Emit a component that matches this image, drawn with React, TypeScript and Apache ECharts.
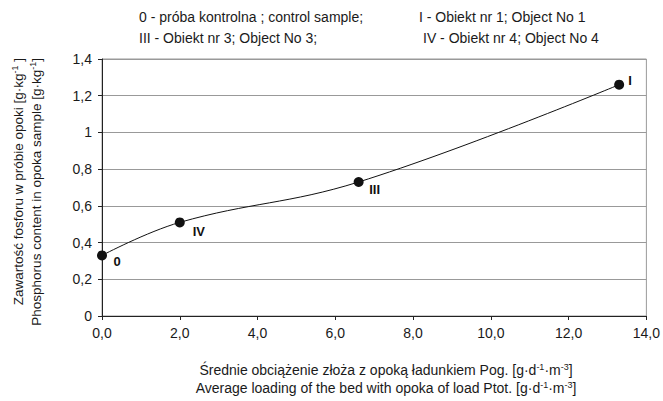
import React, { useEffect, useRef } from "react";
import * as echarts from "echarts";

const xValues = [0, 2.0, 6.6, 13.3];
const yValues = [0.33, 0.51, 0.73, 1.26];
const pointNames = ["0", "IV", "III", "I"];

const legendLines = [
  "0 - próba kontrolna ; control sample;",
  "III - Obiekt nr 3; Object No 3;",
  "I - Obiekt nr 1; Object No 1",
  "IV - Obiekt nr 4; Object No 4",
];

const yTitle1 = "Zawartość fosforu w próbie opoki [g·kg{sup|-1} ]";
const yTitle2 = "Phosphorus content in opoka sample [g·kg{sup|-1}]";
const xTitle1 = "Średnie obciążenie złoża z opoką ładunkiem Pog. [g·d{sup|-1}·m{sup|-3}]";
const xTitle2 = "Average loading of the bed with opoka of load Ptot. [g·d{sup|-1}·m{sup|-3}]";

const FONT = "'Liberation Sans', Arial, sans-serif";
const labelOffsets: number[][] = [
  [15, 6],
  [19, 9],
  [16, 8],
  [11, -4],
];

function textEl(text: string, x: number, y: number, align: string, size: number, rotation = 0) {
  return {
    type: "text",
    x,
    y,
    rotation,
    silent: true,
    style: {
      text,
      fontSize: size,
      fontFamily: FONT,
      fill: "#1a1a1a",
      lineHeight: 16,
      align,
      textAlign: align,
      verticalAlign: "middle",
      textVerticalAlign: "middle",
      rich: {
        sup: {
          fontSize: 9,
          fontFamily: FONT,
          fill: "#1a1a1a",
          lineHeight: 7,
          verticalAlign: "top",
        },
      },
    },
  };
}

export default function App() {
  const ref = useRef<HTMLDivElement>(null);
  useEffect(() => {
    document.body.style.margin = "0";
    if (!ref.current) return;
    const chart = echarts.init(ref.current, undefined, { renderer: "svg" });
    const data = xValues.map((x, i) => ({
      name: pointNames[i],
      value: [x, yValues[i]],
      label: { offset: labelOffsets[i] },
    }));
    chart.setOption({
      animation: false,
      backgroundColor: "#ffffff",
      grid: {
        left: 102,
        right: 15,
        top: 59,
        bottom: 85,
        show: true,
        borderColor: "#999999",
        borderWidth: 1,
      },
      xAxis: {
        type: "value",
        min: 0,
        max: 14,
        interval: 2,
        axisLine: { show: true, lineStyle: { color: "#222", width: 1 } },
        axisTick: { show: true, length: 4, lineStyle: { color: "#222" } },
        splitLine: { show: false },
        axisLabel: {
          margin: 10,
          fontSize: 14,
          fontFamily: FONT,
          color: "#1a1a1a",
          formatter: (v: number) => v.toFixed(1).replace(".", ","),
        },
      },
      yAxis: {
        type: "value",
        min: 0,
        max: 1.4,
        interval: 0.2,
        axisLine: { show: true, lineStyle: { color: "#222", width: 1 } },
        axisTick: { show: true, length: 4, lineStyle: { color: "#222" } },
        splitLine: { show: true, lineStyle: { color: "#999999", width: 1 } },
        axisLabel: {
          margin: 10,
          fontSize: 14,
          fontFamily: FONT,
          color: "#1a1a1a",
          formatter: (v: number) => {
            const r = Math.round(v * 10) / 10;
            return Number.isInteger(r) ? String(r) : r.toFixed(1).replace(".", ",");
          },
        },
      },
      series: [
        {
          type: "line",
          data,
          smooth: 0.4,
          symbol: "circle",
          symbolSize: 10,
          lineStyle: { color: "#111", width: 1 },
          itemStyle: { color: "#111" },
          label: {
            show: true,
            position: "inside",
            formatter: "{b}",
            color: "#111",
            fontWeight: "bold",
            fontSize: 13,
            fontFamily: FONT,
          },
        },
      ],
      graphic: [
        textEl(legendLines[0], 139, 17, "left", 14),
        textEl(legendLines[1], 139, 38, "left", 14),
        textEl(legendLines[2], 419, 17, "left", 14),
        textEl(legendLines[3], 423, 38, "left", 14),
        textEl(yTitle1, 18, 58, "right", 13.5, Math.PI / 2),
        textEl(yTitle2, 36, 58, "right", 13.5, Math.PI / 2),
        textEl(xTitle1, 386, 370, "center", 14),
        textEl(xTitle2, 386, 388, "center", 14),
      ],
    });
    return () => chart.dispose();
  }, []);
  return (
    <div
      ref={ref}
      style={{ width: 663, height: 401, position: "absolute", left: 0, top: 0 }}
    />
  );
}
